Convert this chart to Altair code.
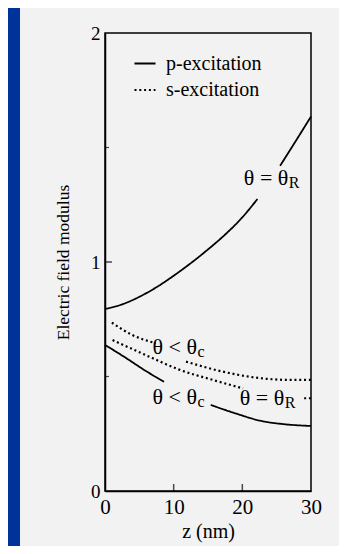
import altair as alt
import pandas as pd

SERIF = "Liberation Serif"

# ---- curve data (z in nm, electric field modulus) ----
# p-excitation, theta = theta_R (two segments, broken for the label)
pR_z_a = [0, 2.5, 5.0, 7.5, 10.0, 12.5, 15.0, 17.5, 20.0, 22.2]
pR_v_a = [0.795, 0.815, 0.848, 0.89, 0.94, 0.995, 1.055, 1.12, 1.195, 1.275]
pR_z_b = [25.5, 27.5, 30]
pR_v_b = [1.42, 1.515, 1.635]

# p-excitation, theta < theta_c
pc_z_a = [0, 3.0, 5.9, 8.6]
pc_v_a = [0.638, 0.582, 0.525, 0.477]
pc_z_b = [15.4, 19.0, 22.9, 26.0, 30]
pc_v_b = [0.376, 0.339, 0.305, 0.292, 0.284]

# s-excitation, theta < theta_c
sc_z_a = [1.0, 4.0, 7.4]
sc_v_a = [0.735, 0.681, 0.645]
sc_z_b = [11.8, 17.2, 23.5, 27.0, 30]
sc_v_b = [0.565, 0.521, 0.49, 0.485, 0.485]

# s-excitation, theta = theta_R
sR_z_a = [1.1, 5.9, 10.8, 15.7, 20.1]
sR_v_a = [0.659, 0.594, 0.53, 0.485, 0.448]
sR_z_b = [29.0, 30]
sR_v_b = [0.405, 0.405]

# ---- annotations ----
lab_base = ["θ = θ", "θ < θ", "θ < θ", "θ = θ"]
lab_sub = ["R", "c", "c", "R"]
lab_z = [26.7, 13.4, 13.4, 26.1]
lab_v = [1.367, 0.630, 0.412, 0.405]

# ---- axis ticks ----
x_ticks = [0, 10, 20, 30]
y_ticks = [0, 1, 2]
y_tick_text = ["0", "1", "2"]
x_inner_ticks = [10, 20]
y_inner_major = [1]
y_inner_minor = [0.5, 1.5]

segments = [
    ("p-excitation", "pRa", pR_z_a, pR_v_a),
    ("p-excitation", "pRb", pR_z_b, pR_v_b),
    ("p-excitation", "pca", pc_z_a, pc_v_a),
    ("p-excitation", "pcb", pc_z_b, pc_v_b),
    ("s-excitation", "sca", sc_z_a, sc_v_a),
    ("s-excitation", "scb", sc_z_b, sc_v_b),
    ("s-excitation", "sRa", sR_z_a, sR_v_a),
    ("s-excitation", "sRb", sR_z_b, sR_v_b),
]
rows = []
for exc, seg, zs, vs in segments:
    for i, (z, v) in enumerate(zip(zs, vs)):
        rows.append({"exc": exc, "seg": seg, "i": i, "z": z, "v": v})
df = pd.DataFrame(rows)

labels = pd.DataFrame({"base": lab_base, "sub": lab_sub, "z": lab_z, "v": lab_v})

xscale = alt.Scale(domain=[0, 30], nice=False)
yscale = alt.Scale(domain=[0, 2], nice=False)

xaxis = alt.Axis(
    values=x_ticks, format="d", tickSize=0, grid=False, labelFont=SERIF, labelFontSize=21,
    labelColor="black", labelPadding=5, labelFlush=False, labelOverlap=False,
    title="z  (nm)", titleFont=SERIF, titleFontSize=20, titleFontWeight="normal",
    titleColor="black", titlePadding=4, domainColor="black", domainWidth=1.5)
yaxis = alt.Axis(
    values=y_ticks, tickSize=0, grid=False, labelFont=SERIF, labelFontSize=19,
    labelExpr="datum.value == 0 ? '0' : datum.value == 1 ? '1' : '2'",
    labelColor="black", labelPadding=5, labelFlush=False, labelOverlap=False,
    title="Electric field modulus", titleFont=SERIF, titleFontSize=17.5,
    titleFontWeight="normal", titleColor="black", titlePadding=18,
    domainColor="black", domainWidth=1.5)

X0 = alt.X("z:Q", scale=xscale, axis=xaxis)
Y0 = alt.Y("v:Q", scale=yscale, axis=yaxis)

lines = alt.Chart(df).mark_line(
    color="black", strokeCap="butt", interpolate="monotone"
).encode(
    x=X0,
    y=Y0,
    strokeDash=alt.StrokeDash("exc:N", scale=alt.Scale(
        domain=["p-excitation", "s-excitation"], range=[[1, 0], [2, 2.8]]),
        legend=alt.Legend(orient="none", legendX=28, legendY=19, title=None,
                          symbolType="stroke", symbolSize=441, symbolStrokeWidth=2,
                          symbolStrokeColor="black", labelFont=SERIF, labelFontSize=20,
                          labelColor="black", labelOffset=9, rowPadding=4)),
    strokeWidth=alt.StrokeWidth("exc:N", scale=alt.Scale(
        domain=["p-excitation", "s-excitation"], range=[1.8, 2.2]), legend=None),
    detail="seg:N",
    order="i:Q",
)

ytick_major = alt.Chart(pd.DataFrame({"v": y_inner_major})).mark_tick(
    orient="horizontal", size=7, thickness=1.5, color="black", xOffset=3.5
).encode(x=alt.datum(0, scale=xscale, axis=xaxis), y=Y0)

ytick_minor = alt.Chart(pd.DataFrame({"v": y_inner_minor})).mark_tick(
    orient="horizontal", size=4, thickness=1.2, color="black", xOffset=2
).encode(x=alt.datum(0, scale=xscale, axis=xaxis), y=Y0)

xtick = alt.Chart(pd.DataFrame({"z": x_inner_ticks})).mark_tick(
    orient="vertical", size=7, thickness=1.5, color="black", yOffset=-3.5
).encode(x=X0, y=alt.datum(0, scale=yscale, axis=yaxis))

base_text = alt.Chart(labels).mark_text(
    align="right", baseline="middle", font=SERIF, fontSize=22, color="black"
).encode(x=X0, y=Y0, text="base:N")

sub_text = alt.Chart(labels).mark_text(
    align="left", baseline="middle", font=SERIF, fontSize=16, color="black", dx=0.5, dy=5
).encode(x=X0, y=Y0, text="sub:N")

strip = alt.Chart(pd.DataFrame({"a": [0]})).mark_rect(color="#003399").encode(
    x=alt.value(-97), x2=alt.value(-85), y=alt.value(-25), y2=alt.value(513)
)

chart = alt.layer(lines, strip, ytick_major, ytick_minor, xtick, base_text, sub_text).properties(
    width=206, height=458,
    padding={"left": 97, "top": 25, "right": 28, "bottom": 55},
    autosize=alt.AutoSizeParams(type="none"),
    background="#f2f2f2",
).configure_view(stroke="black", strokeWidth=1.5)

chart.save("out.html", embed_options={"renderer": "svg", "actions": False})
